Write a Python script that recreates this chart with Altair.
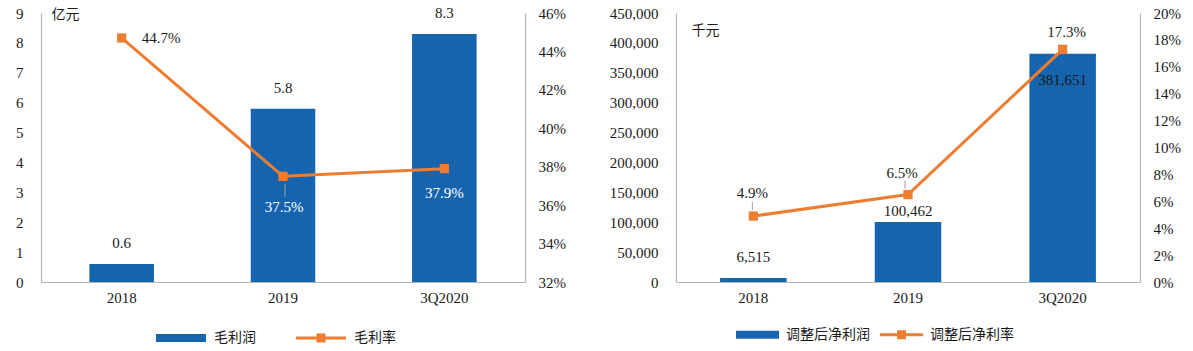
import altair as alt
import pandas as pd

# ---------------- data ----------------
cats = ["2018", "2019", "3Q2020"]
gross_profit = [0.6, 5.8, 8.3]            # 亿元
gross_margin = [0.447, 0.375, 0.379]
adj_profit = [6515, 100462, 381651]       # 千元
adj_margin = [0.049, 0.065, 0.173]

left_names = ["毛利润", "毛利率"]
right_names = ["调整后净利润", "调整后净利率"]

BLUE = "#1764AE"
ORANGE = "#ED7D31"
GRAY = "#B4B4B4"
INK = "#1A1A1A"
SERIF = "Liberation Serif"
CJK = "Noto Sans CJK SC"
H = 269


def sym_paths(w):
    r = w / 2.0
    rect = f"M-1,{-4/r:.3f}L1,{-4/r:.3f}L1,{4/r:.3f}L-1,{4/r:.3f}Z"
    lt, sq = 1.5 / r, 4.5 / r
    line = (f"M-1,{-lt:.3f}L1,{-lt:.3f}L1,{lt:.3f}L-1,{lt:.3f}Z "
            f"M{-sq:.3f},{-sq:.3f}L{sq:.3f},{-sq:.3f}L{sq:.3f},{sq:.3f}L{-sq:.3f},{sq:.3f}Z")
    return rect, line


def panel(bar_vals, line_vals, names, width, pad_inner,
          y1_vals, y1_fmt, y2_vals, y2_fmt, unit, unit_xy,
          bar_fmt, bar_offs, line_offs, leaders, legend_cfg):
    df = pd.DataFrame({
        "cat": cats, "bar": bar_vals, "line": line_vals,
        "bar_s": names[0], "line_s": names[1],
    })
    base = alt.Chart(df)
    x = alt.X("cat:N", sort=cats,
              scale=alt.Scale(paddingInner=pad_inner, paddingOuter=pad_inner / 2),
              axis=alt.Axis(title=None, labelAngle=0, labelFont=SERIF, labelFontSize=15,
                            labelColor=INK, labelPadding=8, ticks=False,
                            domainColor=GRAY, domainWidth=1.2))
    rect_p, line_p = sym_paths(legend_cfg["w"])
    expr_shape = f"datum.value == '{names[0]}' ? '{rect_p}' : '{line_p}'"
    color_scale = alt.Scale(domain=names, range=[BLUE, ORANGE])
    legend = alt.Legend(
        title=None, orient="none", direction="horizontal",
        legendX=legend_cfg["x"], legendY=legend_cfg["y"],
        labelFont=CJK, labelFontSize=14, labelColor=INK,
        labelOffset=legend_cfg["lo"], columnPadding=legend_cfg["cp"],
        symbolSize=legend_cfg["w"] ** 2, symbolStrokeWidth=0,
        symbolOpacity=1,
        symbolType=alt.ExprRef(expr=expr_shape),
    )
    y1_scale = alt.Scale(domain=[y1_vals[0], y1_vals[-1]], nice=False)
    y1_axis = alt.Axis(title=unit, values=y1_vals, format=y1_fmt, grid=False,
                       ticks=False, labelFont=SERIF, labelFontSize=15,
                       labelOverlap=False,
                       labelColor=INK, labelPadding=18, domainColor=GRAY,
                       domainWidth=1.2,
                       titleAngle=0, titleAlign="left", titleBaseline="middle",
                       titleX=unit_xy[0], titleY=unit_xy[1], titleFont=CJK,
                       titleFontSize=14, titleFontWeight="normal", titleColor=INK)
    y1 = alt.Y("bar:Q", scale=y1_scale, axis=y1_axis)
    bars = base.mark_bar().encode(
        x=x, y=y1, color=alt.Color("bar_s:N", scale=color_scale, legend=legend))
    bar_texts = []
    for c, (dx, dy, col) in zip(cats, bar_offs):
        bar_texts.append(base.transform_filter(alt.datum.cat == c).mark_text(
            font=SERIF, fontSize=15, dx=dx, dy=dy, color=col, baseline="middle"
        ).encode(x=x, y=y1, text=alt.Text("bar:Q", format=bar_fmt)))
    left_layer = alt.layer(bars, *bar_texts)

    y2_scale = alt.Scale(domain=[y2_vals[0], y2_vals[-1]], nice=False)
    y2_axis = alt.Axis(title=None, orient="right", values=y2_vals, format=y2_fmt,
                       grid=False, ticks=False, labelFont=SERIF, labelFontSize=15,
                       labelOverlap=False,
                       labelColor=INK, labelPadding=13, domainColor=GRAY,
                       domainWidth=1.2)
    y2 = alt.Y("line:Q", scale=y2_scale, axis=y2_axis)
    line = base.mark_line(color=ORANGE, strokeWidth=3).encode(x=x, y=y2)
    pts = base.mark_square(color=ORANGE, size=85, opacity=1).encode(x=x, y=y2)
    extra = []
    for c, (dx, dy, col, al) in zip(cats, line_offs):
        extra.append(base.transform_filter(alt.datum.cat == c).mark_text(
            font=SERIF, fontSize=15, dx=dx, dy=dy, color=col, align=al, baseline="middle"
        ).encode(x=x, y=y2, text=alt.Text("line:Q", format=".1%")))
    for c, (xo, yo, sz) in leaders:
        extra.append(base.transform_filter(alt.datum.cat == c).mark_tick(
            orient="vertical", size=sz, thickness=1, color="#A0A0A0",
            xOffset=xo, yOffset=yo, opacity=1
        ).encode(x=x, y=y2))
    right_layer = alt.layer(line, pts, *extra)

    return alt.layer(left_layer, right_layer).resolve_scale(y="independent").properties(
        width=width, height=H)


left = panel(
    gross_profit, gross_margin, left_names, 484, 0.6,
    list(range(0, 10)), "d",
    [0.32, 0.34, 0.36, 0.38, 0.40, 0.42, 0.44, 0.46], ".0%",
    "亿元", (10, 1), ".1f",
    [(0, -21, INK), (0, -21, INK), (0, -21, INK)],
    [(20, 0, INK, "left"), (1, 31, "white", "center"), (0, 24, "white", "center")],
    [("2019", (2, 14, 13))],
    {"x": 115, "y": 300, "w": 50, "lo": 8, "cp": 40},
)

right = panel(
    adj_profit, adj_margin, right_names, 464, 0.57,
    list(range(0, 450001, 50000)), ",d",
    [i / 100 for i in range(0, 21, 2)], ".0%",
    "千元", (15, 17), ",d",
    [(0, -21, INK), (0, -11, INK), (0, 26, INK)],
    [(-1, -23, INK, "center"), (-6, -22, INK, "center"), (4, -17, INK, "center")],
    [("2018", (-1, -10, 8)), ("2019", (-3, -10, 8))],
    {"x": 60, "y": 300, "w": 43, "lo": 7, "cp": 10},
)

chart = alt.hconcat(left, right, spacing=43).resolve_scale(
    x="independent", y="independent", color="independent"
).resolve_legend(color="independent").properties(
    padding={"left": 15, "top": 5, "right": 5, "bottom": 5},
    background="white",
).configure_view(stroke=None)

chart.save("out.html", embed_options={"renderer": "svg", "actions": False})
